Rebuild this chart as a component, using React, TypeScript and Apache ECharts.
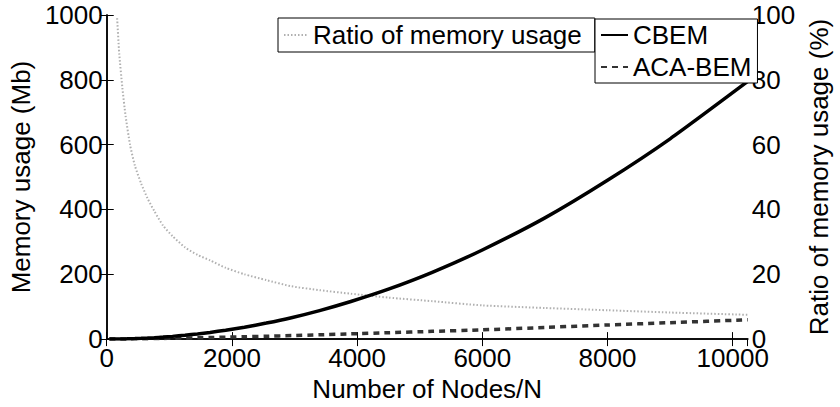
import React, { useEffect, useRef } from "react";
import * as echarts from "echarts";

const nodes = [42, 100, 166, 200, 250, 300, 372, 450, 550, 650, 760, 900, 1050, 1250, 1450, 1650, 1900, 2200, 2550, 2950, 3400, 3900, 4500, 5200, 6000, 7000, 8000, 9000, 10240];
const cbem = [0.01, 0.08, 0.2, 0.3, 0.47, 0.68, 1.05, 1.55, 2.3, 3.2, 4.4, 6.2, 8.4, 11.9, 16, 20.7, 27.4, 36.8, 49.4, 66, 88, 116, 154, 206, 275, 374, 490, 618, 795];
const acaBem = [0.01, 0.08, 0.2, 0.26, 0.36, 0.47, 0.63, 0.83, 1.1, 1.4, 1.74, 2.17, 2.67, 3.37, 4.16, 5.0, 6.1, 7.4, 8.9, 10.8, 13.2, 16.1, 19.7, 23.9, 28.6, 35.9, 43.6, 50.7, 59.6];
const ratio = [null, null, 99, 88, 77.5, 69, 60, 53.5, 48, 43.5, 39.5, 35, 31.8, 28.3, 26, 24.3, 22, 20, 18.2, 16.3, 15.1, 14, 12.8, 11.7, 10.4, 9.6, 8.9, 8.2, 7.5];

const FONT = "'Liberation Sans', Arial, Helvetica, sans-serif";
const FS = 26;

export default function App() {
  const ref = useRef<HTMLDivElement>(null);
  useEffect(() => {
    document.body.style.margin = "0";
    if (!ref.current) return;
    const chart = echarts.init(ref.current, undefined, { renderer: "svg" });
    const pair = (vals: (number | null)[]) => nodes.map((n, i) => [n, vals[i]]);
    const plain = (v: number) => String(v);
    const axisCommon = {
      axisLine: { show: true, lineStyle: { color: "#000", width: 1.5 } },
      axisTick: { show: true, inside: true, length: 7, lineStyle: { color: "#000", width: 1 } },
      splitLine: { show: false },
    };
    const tickLabel = { fontSize: FS, lineHeight: 22, color: "#000", fontFamily: FONT, formatter: plain };
    const legendText = { fontSize: FS, color: "#000", fontFamily: FONT, lineHeight: 28 };
    chart.setOption({
      animation: false,
      textStyle: { fontFamily: FONT },
      grid: { left: 99, right: 80, top: 15, bottom: 59, containLabel: false },
      legend: [
        {
          data: ["Ratio of memory usage"],
          left: 278,
          top: 18,
          orient: "horizontal",
          itemWidth: 24,
          itemHeight: 14,
          itemGap: 5,
          padding: [3, 13, 3, 5],
          borderColor: "#000",
          borderWidth: 1,
          backgroundColor: "#fff",
          selectedMode: false,
          itemStyle: { opacity: 0 },
          textStyle: legendText,
        },
        {
          data: ["CBEM", "ACA-BEM"],
          left: 595,
          top: 19,
          orient: "vertical",
          itemWidth: 27,
          itemHeight: 14,
          itemGap: 4,
          padding: [2, 6, 2, 5],
          borderColor: "#000",
          borderWidth: 1,
          backgroundColor: "#fff",
          selectedMode: false,
          itemStyle: { opacity: 0 },
          textStyle: legendText,
        },
      ],
      xAxis: [
        {
          type: "value",
          position: "bottom",
          min: 0,
          max: 10240,
          interval: 2000,
          ...axisCommon,
          axisLabel: { ...tickLabel, margin: 8, showMaxLabel: false },
          name: "Number of Nodes/N",
          nameLocation: "middle",
          nameGap: 27,
          nameTextStyle: { fontSize: FS, color: "#000", fontFamily: FONT },
        },
        {
          type: "value",
          position: "top",
          min: 0,
          max: 10240,
          interval: 2000,
          ...axisCommon,
          axisLabel: { show: false },
        },
      ],
      yAxis: [
        {
          type: "value",
          position: "left",
          min: 0,
          max: 1000,
          interval: 200,
          ...axisCommon,
          axisLabel: { ...tickLabel, margin: 4 },
          name: "Memory usage (Mb)",
          nameLocation: "middle",
          nameRotate: 90,
          nameGap: 67,
          nameTextStyle: { fontSize: FS, color: "#000", fontFamily: FONT },
        },
        {
          type: "value",
          position: "right",
          min: 0,
          max: 100,
          interval: 20,
          ...axisCommon,
          axisLabel: { ...tickLabel, margin: 4 },
          name: "Ratio of memory usage (%)",
          nameLocation: "middle",
          nameRotate: 90,
          nameGap: 48,
          nameTextStyle: { fontSize: FS, color: "#000", fontFamily: FONT },
        },
      ],
      series: [
        {
          name: "Ratio of memory usage",
          type: "line",
          yAxisIndex: 1,
          xAxisIndex: 0,
          data: pair(ratio),
          symbol: "none",
          smooth: 0.2,
          connectNulls: false,
          lineStyle: { color: "#b0b0b0", width: 2, type: [1.5, 2] },
          itemStyle: { color: "#b0b0b0" },
          z: 1,
        },
        {
          name: "CBEM",
          type: "line",
          yAxisIndex: 0,
          xAxisIndex: 0,
          data: pair(cbem),
          symbol: "none",
          smooth: 0.2,
          lineStyle: { color: "#000", width: 3.5 },
          itemStyle: { color: "#000" },
          z: 3,
        },
        {
          name: "ACA-BEM",
          type: "line",
          yAxisIndex: 0,
          xAxisIndex: 0,
          data: pair(acaBem),
          symbol: "none",
          smooth: 0.2,
          lineStyle: { color: "#333", width: 3.5, type: [6, 5] },
          itemStyle: { color: "#333" },
          z: 2,
        },
      ],
    });
    return () => chart.dispose();
  }, []);
  return <div ref={ref} style={{ width: 840, height: 407 }} />;
}
